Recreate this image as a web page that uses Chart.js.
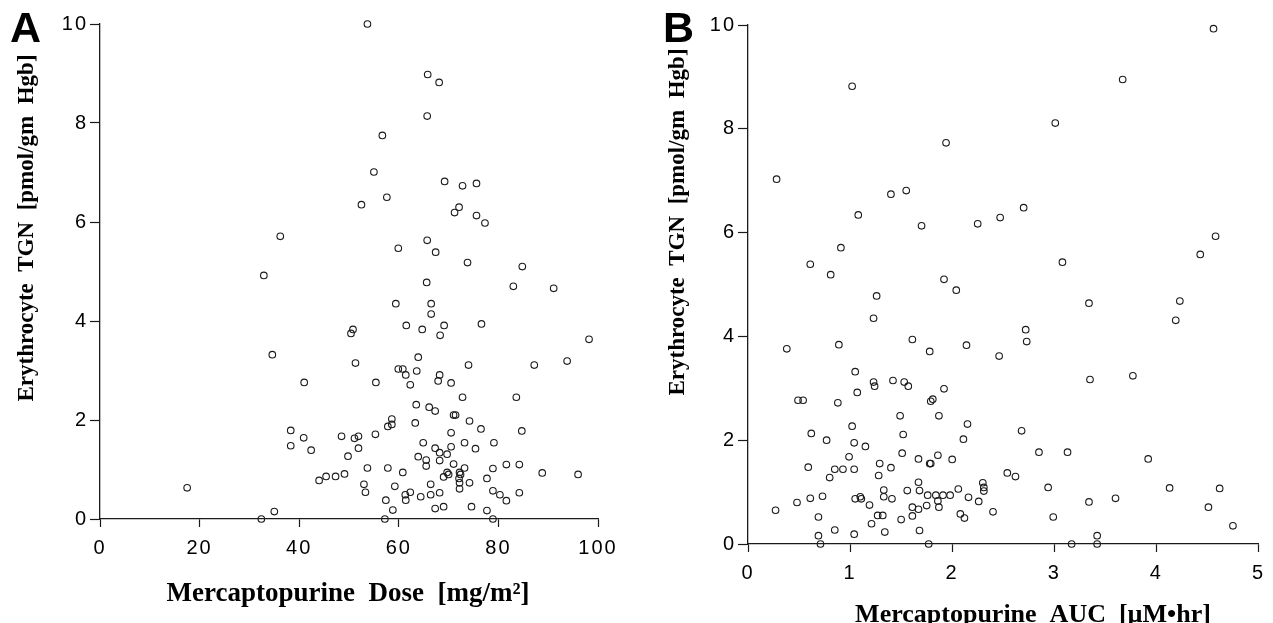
<!DOCTYPE html>
<html>
<head>
<meta charset="utf-8">
<script src="https://cdn.jsdelivr.net/npm/chart.js@4.4.1/dist/chart.umd.min.js"></script>
<style>
  html, body { margin: 0; padding: 0; background: #fff; }
  body { width: 1273px; height: 623px; position: relative; overflow: hidden; }
  canvas { position: absolute; top: 0; }
  #cA { left: 0; }
  #cB { left: 636px; }
</style>
</head>
<body>
<canvas id="cA" width="640" height="623"></canvas>
<canvas id="cB" width="637" height="623"></canvas>
<script>
// ---- Data ----
// Panel A: Mercaptopurine dose [mg/m2] vs erythrocyte TGN [pmol/gm Hgb]
const doseA = [53.7,52.5,36.2,32.9,50.8,50.4,34.6,51.3,41.0,38.3,40.9,38.3,42.4,48.5,51.1,51.9,51.9,49.8,53.7,44.0,45.4,47.3,49.1,53.0,53.3,17.5,35.0,32.4,
  65.8,68.1,65.7,56.7,55.0,57.6,69.2,72.8,75.6,72.1,71.2,75.6,77.3,65.7,59.9,67.4,73.8,84.8,65.6,83.0,91.1,59.4,66.5,66.5,61.5,69.1,64.7,76.6,68.3,98.2,
  63.9,93.8,87.2,74.0,59.9,60.8,63.6,61.4,68.2,67.9,70.5,55.4,62.3,72.8,83.6,63.5,66.1,67.3,71.0,71.4,58.6,57.8,58.6,63.3,74.2,76.5,70.5,84.7,55.3,
  64.9,73.2,79.1,67.3,68.2,70.5,75.4,69.7,63.9,65.5,65.5,68.2,71.0,73.2,81.6,84.2,78.9,88.8,96.0,57.8,60.8,69.7,70.0,69.0,72.2,72.4,72.1,72.2,72.2,
  74.2,77.7,59.2,66.4,61.3,62.3,61.4,64.4,66.4,68.2,78.9,80.3,84.2,81.6,57.4,58.8,67.3,69.0,74.6,77.7,57.2,78.9];
const tgnA = [10.0,6.35,5.71,4.92,3.83,3.75,3.32,3.15,2.76,1.79,1.64,1.48,1.39,1.67,1.63,1.67,1.43,1.27,1.03,0.78,0.86,0.86,0.91,0.70,0.54,0.63,0.15,0.0,
  8.98,8.82,8.14,7.75,7.01,6.50,6.82,6.73,6.78,6.30,6.19,6.13,5.98,5.63,5.47,5.39,5.18,5.10,4.78,4.70,4.66,4.35,4.35,4.14,3.91,3.91,3.83,3.94,3.71,3.63,
  3.27,3.19,3.11,3.11,3.03,3.03,2.99,2.91,2.91,2.79,2.75,2.76,2.71,2.46,2.46,2.31,2.26,2.18,2.10,2.10,2.02,1.87,1.91,1.94,1.98,1.82,1.74,1.78,1.71,
  1.54,1.54,1.54,1.43,1.34,1.46,1.42,1.31,1.26,1.19,1.07,1.18,1.11,1.03,1.10,1.10,1.02,0.93,0.90,1.03,0.94,0.94,0.90,0.85,0.94,0.90,0.82,0.73,0.61,
  0.73,0.82,0.66,0.70,0.49,0.54,0.38,0.45,0.49,0.53,0.57,0.49,0.53,0.37,0.38,0.18,0.21,0.25,0.25,0.17,0.0,0.0];

// Panel B: Mercaptopurine AUC [uM*hr] vs erythrocyte TGN [pmol/gm Hgb]
const aucB = [1.02,1.94,0.28,1.40,1.55,1.08,1.70,2.25,2.47,0.91,0.61,0.81,1.92,2.04,1.26,4.56,3.67,3.01,2.70,4.58,4.43,3.08,4.23,3.34,4.19,2.72,2.73,2.46,
  3.35,3.77,2.68,2.85,3.13,3.92,2.54,2.62,2.94,4.13,4.62,3.34,3.60,4.51,2.99,4.75,3.42,3.17,3.42,1.23,1.61,2.14,1.78,0.38,0.89,1.05,1.23,1.24,1.42,
  1.53,1.57,1.92,1.07,0.49,0.54,0.88,1.79,1.81,1.49,1.87,2.15,1.02,0.62,1.52,2.11,0.77,1.04,1.15,1.51,1.86,0.99,1.67,2.00,1.78,1.79,1.29,1.40,0.59,
  0.85,0.93,1.04,0.80,1.28,1.67,2.30,2.31,2.31,1.33,1.56,1.68,2.06,1.76,1.84,1.91,1.98,1.86,1.87,2.16,2.26,2.40,2.08,2.12,1.33,1.41,1.10,1.11,1.05,
  1.19,0.73,0.61,0.48,0.27,0.69,1.61,1.67,1.75,1.61,1.50,1.27,1.32,1.21,0.85,1.04,1.34,1.68,0.69,0.71,1.77];
const tgnB = [8.82,7.73,7.03,6.74,6.81,6.34,6.13,6.17,6.29,5.71,5.39,5.19,5.10,4.89,4.78,9.93,8.95,8.11,6.48,5.93,5.58,5.43,4.68,4.64,4.31,4.13,3.90,3.62,
  3.17,3.24,2.18,1.77,1.77,1.64,1.37,1.30,1.09,1.08,1.07,0.81,0.88,0.71,0.52,0.35,0.16,0.0,0.0,4.35,3.94,3.83,3.71,3.76,3.84,3.32,3.12,3.04,3.15,
  3.12,3.04,2.99,2.92,2.77,2.77,2.72,2.75,2.79,2.47,2.47,2.31,2.27,2.13,2.11,2.02,2.00,1.95,1.88,1.75,1.71,1.68,1.64,1.63,1.55,1.55,1.55,1.47,1.48,
  1.44,1.44,1.44,1.28,1.32,1.19,1.18,1.09,1.02,1.04,1.03,1.03,1.06,0.94,0.94,0.94,0.94,0.83,0.71,0.90,0.82,0.62,0.58,0.50,0.91,0.87,0.91,0.87,0.87,
  0.75,0.92,0.88,0.80,0.65,0.52,0.71,0.67,0.74,0.54,0.47,0.55,0.55,0.39,0.27,0.19,0.23,0.26,0.16,0.0,0.0];

// Tick values
const tgnTicks  = [0, 2, 4, 6, 8, 10];
const doseTicks = [0, 20, 40, 60, 80, 100];
const aucTicks  = [0, 1, 2, 3, 4, 5];

// ---- Helpers ----
const pairs = (xs, ys) => xs.map((x, i) => ({ x: x, y: ys[i] }));
const INK = '#1a1a1a';

const spacingPlugin = {
  id: 'tickSpacing',
  beforeDraw(chart) { chart.ctx.letterSpacing = '2px'; },
  afterDraw(chart) { chart.ctx.letterSpacing = '0px'; }
};

const textPlugin = {
  id: 'panelText',
  afterDraw(chart, args, opts) {
    const ctx = chart.ctx;
    ctx.save();
    ctx.letterSpacing = '0px';
    ctx.fillStyle = '#000';
    for (const t of opts.items) {
      ctx.save();
      ctx.font = t.font;
      ctx.textAlign = t.align || 'center';
      ctx.textBaseline = 'alphabetic';
      ctx.translate(t.x, t.y);
      if (t.rot) ctx.rotate(t.rot);
      ctx.fillText(t.text, 0, 0);
      ctx.restore();
    }
    ctx.restore();
  }
};

function axisTicks(values) {
  return function (scale) {
    scale.ticks = values.map(v => ({ value: v }));
  };
}

function makeChart(id, xs, ys, xTicks, yTicks, geom, texts) {
  return new Chart(document.getElementById(id), {
    type: 'scatter',
    data: {
      datasets: [{
        data: pairs(xs, ys),
        pointStyle: 'circle',
        pointRadius: 3.3,
        pointHoverRadius: 3.3,
        borderWidth: 1.1,
        borderColor: INK,
        backgroundColor: 'rgba(0,0,0,0)',
        clip: false
      }]
    },
    options: {
      responsive: false,
      animation: false,
      events: [],
      layout: { padding: geom.padding },
      plugins: {
        legend: { display: false },
        tooltip: { enabled: false },
        panelText: { items: texts }
      },
      scales: {
        x: {
          type: 'linear',
          min: xTicks[0], max: xTicks[xTicks.length - 1],
          afterBuildTicks: axisTicks(xTicks),
          afterFit: s => { s.height = geom.xHeight; },
          grid: { drawOnChartArea: false, drawTicks: true, tickLength: 8, tickWidth: 1.2, tickColor: INK },
          border: { display: true, color: INK, width: 1.3 },
          ticks: { color: '#000', padding: 9, maxRotation: 0, autoSkip: false,
                   font: { family: 'Liberation Sans, Arial, sans-serif', size: 20 } }
        },
        y: {
          type: 'linear',
          min: yTicks[0], max: yTicks[yTicks.length - 1],
          afterBuildTicks: axisTicks(yTicks),
          afterFit: s => { s.width = geom.yWidth; },
          grid: { drawOnChartArea: false, drawTicks: true, tickLength: 10, tickWidth: 1.2, tickColor: INK },
          border: { display: true, color: INK, width: 1.3 },
          ticks: { color: '#000', padding: 2, autoSkip: false,
                   font: { family: 'Liberation Sans, Arial, sans-serif', size: 20 } }
        }
      }
    },
    plugins: [spacingPlugin, textPlugin]
  });
}

const serifBold = (px) => 'bold ' + px + 'px "Liberation Serif", "Times New Roman", serif';
const sansBold = (px) => 'bold ' + px + 'px "Liberation Sans", Arial, sans-serif';

makeChart('cA', doseA, tgnA, doseTicks, tgnTicks,
  { padding: { left: 0, top: 24, right: 42, bottom: 0 }, yWidth: 100, xHeight: 104 },
  [
    { text: 'A', font: sansBold(43), align: 'left', x: 10, y: 42 },
    { text: 'Erythrocyte  TGN  [pmol/gm  Hgb]', font: serifBold(23), align: 'center', x: 33, y: 228, rot: -Math.PI / 2 },
    { text: 'Mercaptopurine  Dose  [mg/m\u00B2]', font: serifBold(27), align: 'center', x: 348, y: 601 }
  ]);

makeChart('cB', aucB, tgnB, aucTicks, tgnTicks,
  { padding: { left: 0, top: 25, right: 7, bottom: 0 }, yWidth: 112, xHeight: 79 },
  [
    { text: 'B', font: sansBold(43), align: 'left', x: 27, y: 42 },
    { text: 'Erythrocyte  TGN  [pmol/gm  Hgb]', font: serifBold(23), align: 'center', x: 48, y: 222, rot: -Math.PI / 2 },
    { text: 'Mercaptopurine  AUC  [\u00B5M\u2022hr]', font: serifBold(26), align: 'center', x: 397, y: 622 }
  ]);
</script>
</body>
</html>
